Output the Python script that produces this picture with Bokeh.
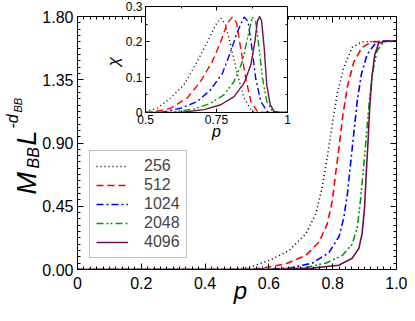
import numpy as np
from bokeh.plotting import figure
from bokeh.models import LinearAxis, FixedTicker, Range1d, Label, Legend, LegendItem
from bokeh.layouts import column
from bokeh.embed import file_html
from bokeh.resources import INLINE

# ---------------- data ----------------
SIZES = ["256", "512", "1024", "2048", "4096"]

# main panel: M_BB L^{-d_BB} vs p
P256 = [0, 0.497, 0.539, 0.601, 0.663, 0.716, 0.747, 0.767, 0.783, 0.799, 0.814, 0.835, 0.861, 0.892, 1.0]
M256 = [0, 0, 0.016, 0.064, 0.135, 0.254, 0.396, 0.585, 0.799, 1.036, 1.25, 1.44, 1.58, 1.62, 1.625]

P512 = [0, 0.52, 0.58, 0.653, 0.716, 0.757, 0.783, 0.799, 0.809, 0.82, 0.832, 0.846, 0.866, 0.892, 0.923, 1.0]
M512 = [0, 0, 0.01, 0.04, 0.1, 0.195, 0.325, 0.49, 0.68, 0.87, 1.1, 1.3, 1.475, 1.58, 1.62, 1.625]

P1024 = [0, 0.56, 0.664, 0.736, 0.788, 0.82, 0.835, 0.846, 0.856, 0.866, 0.877, 0.89, 0.908, 0.934, 0.96, 1.0]
M1024 = [0, 0, 0.01, 0.045, 0.12, 0.235, 0.37, 0.538, 0.752, 0.965, 1.2, 1.39, 1.53, 1.61, 1.625, 1.625]

P2048 = [0, 0.58, 0.705, 0.778, 0.83, 0.861, 0.877, 0.887, 0.897, 0.906, 0.915, 0.926, 0.939, 0.96, 1.0]
M2048 = [0, 0, 0.01, 0.045, 0.1, 0.18, 0.3, 0.49, 0.73, 0.965, 1.2, 1.415, 1.555, 1.62, 1.625]

P4096 = [0, 0.6, 0.736, 0.819, 0.861, 0.882, 0.892, 0.9, 0.905, 0.911, 0.916, 0.923, 0.932, 0.944, 0.965, 1.0]
M4096 = [0, 0, 0.01, 0.03, 0.08, 0.15, 0.254, 0.443, 0.68, 0.918, 1.155, 1.37, 1.53, 1.61, 1.625, 1.625]

# inset: chi vs p
Q256 = [0.5, 0.541, 0.588, 0.635, 0.682, 0.718, 0.747, 0.765, 0.782, 0.8, 0.824, 0.847, 0.871, 0.894, 1.0]
C256 = [0.003, 0.012, 0.041, 0.078, 0.144, 0.2, 0.248, 0.267, 0.248, 0.19, 0.107, 0.041, 0.008, 0, 0]

Q512 = [0.5, 0.518, 0.588, 0.647, 0.694, 0.735, 0.765, 0.788, 0.806, 0.821, 0.835, 0.853, 0.871, 0.894, 0.918, 1.0]
C512 = [0, 0, 0.012, 0.041, 0.088, 0.144, 0.2, 0.253, 0.27, 0.253, 0.182, 0.097, 0.031, 0.003, 0, 0]

Q1024 = [0.5, 0.553, 0.624, 0.682, 0.729, 0.771, 0.8, 0.824, 0.847, 0.861, 0.873, 0.888, 0.906, 0.929, 0.947, 1.0]
C1024 = [0, 0, 0.012, 0.031, 0.064, 0.111, 0.173, 0.229, 0.27, 0.258, 0.192, 0.097, 0.031, 0.003, 0, 0]

Q2048 = [0.5, 0.588, 0.671, 0.729, 0.776, 0.812, 0.841, 0.859, 0.876, 0.888, 0.9, 0.912, 0.927, 0.947, 0.965, 1.0]
C2048 = [0, 0, 0.01, 0.026, 0.05, 0.088, 0.144, 0.21, 0.27, 0.258, 0.182, 0.097, 0.031, 0.003, 0, 0]

Q4096 = [0.5, 0.624, 0.706, 0.765, 0.812, 0.847, 0.871, 0.885, 0.894, 0.902, 0.909, 0.918, 0.927, 0.939, 0.953, 0.971, 1.0]
C4096 = [0, 0, 0.008, 0.022, 0.045, 0.083, 0.135, 0.2, 0.258, 0.272, 0.258, 0.182, 0.078, 0.022, 0.003, 0, 0]

MAIN_X_TICKS = [0, 0.2, 0.4, 0.6, 0.8, 1.0]
MAIN_X_LABELS = ["0", "0.2", "0.4", "0.6", "0.8", "1.0"]
MAIN_Y_TICKS = [0, 0.45, 0.9, 1.35, 1.8]
MAIN_Y_LABELS = ["0.00", "0.45", "0.90", "1.35", "1.80"]
INS_X_TICKS = [0.5, 0.75, 1.0]
INS_X_LABELS = ["0.5", "0.75", "1"]
INS_Y_TICKS = [0, 0.1, 0.2, 0.3]
INS_Y_LABELS = ["0", "0.1", "0.2", "0.3"]

# ---------------- styles ----------------
COLORS = ["black", "#ff0000", "#0000ff", "#009900", "#6e1050"]
DASHES = ["1 3", "7 4", "7 3 2 3", "7 3 2 2 2 3", "solid"]
FONT = "Liberation Sans"
W, H = 407, 305
BL, BR = 77, 11          # left / right borders shared by all figures of the column

main_series = [(P256, M256), (P512, M512), (P1024, M1024), (P2048, M2048), (P4096, M4096)]
ins_series = [(Q256, C256), (Q512, C512), (Q1024, C1024), (Q2048, C2048), (Q4096, C4096)]


def minor_list(ticks, n):
    out = []
    for a, b in zip(ticks[:-1], ticks[1:]):
        step = (b - a) / n
        out += [a + k * step for k in range(1, n)]
    return out


def style_axis(ax, ticks, labels, minor, major_in, minor_in, fs, show=True):
    ax.ticker = FixedTicker(ticks=ticks, minor_ticks=minor)
    ax.major_label_overrides = {t: l for t, l in zip(ticks, labels)}
    ax.major_tick_in = major_in
    ax.major_tick_out = 0
    ax.minor_tick_in = minor_in
    ax.minor_tick_out = 0
    ax.axis_line_color = "black"
    ax.major_tick_line_color = "black"
    ax.minor_tick_line_color = "black"
    ax.major_label_text_font = FONT
    ax.major_label_text_color = "black"
    ax.major_label_text_font_size = fs
    if not show:
        ax.major_label_text_font_size = "0px"
        ax.major_label_text_color = None
        ax.major_label_standoff = 0


# ---------------- main figure ----------------
p = figure(width=W, height=H, x_range=Range1d(0, 1), y_range=Range1d(0, 1.8),
           output_backend="svg", toolbar_location=None,
           min_border_left=BL, min_border_right=BR, min_border_top=16, min_border_bottom=36,
           outline_line_color="black", background_fill_color="white", border_fill_color="white")
p.grid.visible = False

xmin = minor_list(MAIN_X_TICKS, 10)
ymin = minor_list(MAIN_Y_TICKS, 10)
style_axis(p.xaxis[0], MAIN_X_TICKS, MAIN_X_LABELS, xmin, 6, 3, "16px")
style_axis(p.yaxis[0], MAIN_Y_TICKS, MAIN_Y_LABELS, ymin, 6, 3, "16px")
p.xaxis[0].major_label_standoff = 7
p.yaxis[0].major_label_standoff = 4

top_ax = LinearAxis()
right_ax = LinearAxis()
style_axis(top_ax, MAIN_X_TICKS, MAIN_X_LABELS, xmin, 6, 3, "16px", show=False)
style_axis(right_ax, MAIN_Y_TICKS, MAIN_Y_LABELS, ymin, 6, 3, "16px", show=False)
p.add_layout(top_ax, "above")
p.add_layout(right_ax, "right")

items = []
for (xs, ys), c, d, s in zip(main_series, COLORS, DASHES, SIZES):
    r = p.line(xs, ys, line_color=c, line_width=1.6, line_dash=d)
    items.append(LegendItem(label=s, renderers=[r]))

legend = Legend(items=items, location=(12, 11), margin=0, padding=6, spacing=1,
                glyph_width=32, glyph_height=16, label_height=16, label_standoff=16,
                label_text_font=FONT, label_text_font_size="16px",
                border_line_color="#808080", border_line_width=1,
                background_fill_color="white", background_fill_alpha=1)
p.add_layout(legend)

# ---------------- inset ----------------
# frame wanted at x 145..287; the column gives every child the borders BL/BR
INS_LEFT = 145 - BL
INS_W = 287 - INS_LEFT + BR
INS_H = 152
ins = figure(width=INS_W, height=INS_H, x_range=Range1d(0.5, 1), y_range=Range1d(0, 0.3),
             output_backend="svg", toolbar_location=None,
             min_border_left=BL, min_border_right=BR, min_border_top=6, min_border_bottom=40,
             outline_line_color="black", background_fill_color="white", border_fill_color=None)
ins.grid.visible = False
ixmin = minor_list(INS_X_TICKS, 2)
iymin = minor_list(INS_Y_TICKS, 2)
style_axis(ins.xaxis[0], INS_X_TICKS, INS_X_LABELS, ixmin, 4, 2, "12px")
style_axis(ins.yaxis[0], INS_Y_TICKS, INS_Y_LABELS, iymin, 4, 2, "12px")
ins.xaxis[0].major_label_standoff = 2
ins.yaxis[0].major_label_standoff = 3
itop = LinearAxis()
iright = LinearAxis()
style_axis(itop, INS_X_TICKS, INS_X_LABELS, ixmin, 4, 2, "12px", show=False)
style_axis(iright, INS_Y_TICKS, INS_Y_LABELS, iymin, 4, 2, "12px", show=False)
ins.add_layout(itop, "above")
ins.add_layout(iright, "right")

for (xs, ys), c, d in zip(ins_series, COLORS, DASHES):
    ins.line(xs, ys, line_color=c, line_width=1.4, line_dash=d)

ins.margin = (-H, 0, 0, INS_LEFT)

# ---------------- text overlay (axis titles) ----------------
# shifted left by BL so that its frame spans image x 0..(W-BL-BR), y 0..H
OV_FW = W - BL - BR
ov = figure(width=W, height=H, x_range=Range1d(0, OV_FW), y_range=Range1d(0, H),
            output_backend="svg", toolbar_location=None, x_axis_type=None, y_axis_type=None,
            min_border_left=BL, min_border_right=BR, min_border_top=0, min_border_bottom=0,
            outline_line_color=None, background_fill_color=None, border_fill_color=None)
ov.grid.visible = False
ov.margin = (-INS_H, 0, 0, -BL)

# (text, x of baseline, y where text starts (image px from top), size)
YLAB = [
    ("M", 26, 194, "27px"),
    ("BB", 33, 168, "16px"),
    ("L", 26, 145, "27px"),
    ("-d", 12, 128, "16px"),
    ("BB", 17, 112, "11px"),
]
for t, xx, yy, fs in YLAB:
    ov.add_layout(Label(x=xx, y=H - yy, text=t, angle=np.pi / 2, text_align="left",
                        text_baseline="alphabetic", text_font=FONT, text_font_style="italic",
                        text_font_size=fs, text_color="black"))

# other axis titles: (text, x, y, size, angle, baseline)
TITLES = [("p", 240, 303, "24px", 0.0, "bottom"),
          ("p", 216, 131, "16px", 0.0, "alphabetic"),
          ("χ", 113, 61, "17px", np.pi / 2, "middle")]
for t, xx, yy, fs, ang, bl in TITLES:
    ov.add_layout(Label(x=xx, y=H - yy, text=t, angle=ang, text_align="center",
                        text_baseline=bl, text_font=FONT, text_font_style="italic",
                        text_font_size=fs, text_color="black"))

layout = column(p, ins, ov)
open("out.html", "w").write(file_html(layout, INLINE))
